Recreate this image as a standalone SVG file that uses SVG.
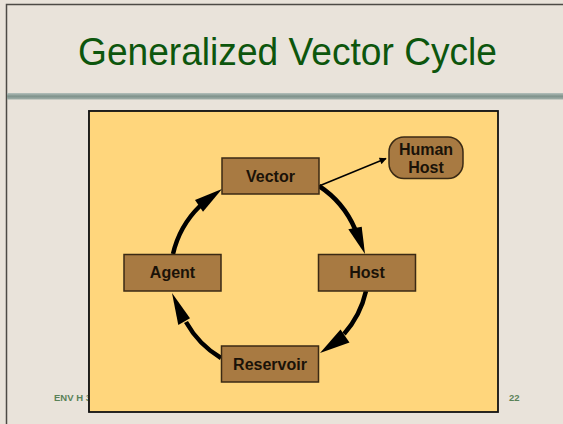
<svg xmlns="http://www.w3.org/2000/svg" width="563" height="424" viewBox="0 0 563 424">
  <defs>
    <linearGradient id="bar" x1="0" y1="0" x2="0" y2="1">
      <stop offset="0" stop-color="#b4c0bb"/>
      <stop offset="0.5" stop-color="#7f928b"/>
      <stop offset="1" stop-color="#a3b1ab"/>
    </linearGradient>
    <marker id="thin" viewBox="0 0 10 10" refX="9" refY="5" markerWidth="10" markerHeight="7" markerUnits="userSpaceOnUse" orient="auto">
      <path d="M0,0 L10,5 L0,10 z" fill="#000"/>
    </marker>
  </defs>
  <style>
    .node rect { fill: #a87a42; stroke: #3b2a14; stroke-width: 1.5; }
    .node text { font-family: "Liberation Sans", Arial, sans-serif; font-weight: bold; font-size: 16px; fill: #1a1208; text-anchor: middle; }
    .arc { fill: none; stroke: #000; stroke-width: 4.5; }
    .head { fill: #000; }
    .foot { font-family: "Liberation Sans", Arial, sans-serif; font-size: 9.5px; font-weight: bold; fill: #5a8258; }
  </style>

  <!-- slide background and frame -->
  <rect x="0" y="0" width="563" height="424" fill="#e9e3da"/>
  <path d="M6.5,424 V4.5 H563" fill="none" stroke="#4d4a45" stroke-width="1.5"/>

  <!-- title -->
  <text x="287.5" y="65" font-family="Liberation Sans, Arial, sans-serif" font-size="39" fill="#0d560d" text-anchor="middle" textLength="419" lengthAdjust="spacingAndGlyphs">Generalized Vector Cycle</text>

  <!-- divider bar -->
  <rect x="7" y="93" width="556" height="6.5" fill="url(#bar)"/>

  <!-- footer -->
  <text class="foot" x="54" y="401">ENV H 3</text>
  <text class="foot" x="509" y="401">22</text>

  <!-- panel -->
  <rect x="88" y="110" width="410" height="302" fill="#9a9a90"/>
  <rect x="89" y="111" width="409" height="301" fill="#ffd67c" stroke="#111" stroke-width="1.8"/>

  <!-- connectors -->
  <g id="connectors">
    <path class="arc" d="M173,254 A97,97 0 0 1 200,206"/>
    <polygon class="head" points="222,189 195,200 203,211.7"/>
    <path class="arc" d="M319,186 A97,97 0 0 1 355,229"/>
    <polygon class="head" points="365,254 348.3,229.3 361.7,226.7"/>
    <path class="arc" d="M366,291 A97,97 0 0 1 344,334"/>
    <polygon class="head" points="320,353 349.5,342.6 340.5,329.4"/>
    <path class="arc" d="M221,358 A97,97 0 0 1 186,322"/>
    <polygon class="head" points="172,293 178.3,325 190,318.3"/>
    <line x1="319" y1="186" x2="386" y2="158.5" stroke="#000" stroke-width="1.5" marker-end="url(#thin)"/>
  </g>

  <!-- nodes -->
  <g id="vector" class="node">
    <rect x="222" y="158" width="97" height="36"/>
    <text x="270.5" y="182">Vector</text>
  </g>
  <g id="agent" class="node">
    <rect x="124" y="254.5" width="97" height="36.5"/>
    <text x="172.5" y="278">Agent</text>
  </g>
  <g id="host" class="node">
    <rect x="318.5" y="254.5" width="97" height="36.5"/>
    <text x="367" y="278">Host</text>
  </g>
  <g id="reservoir" class="node">
    <rect x="221.5" y="346" width="97" height="36"/>
    <text x="270" y="370">Reservoir</text>
  </g>
  <g id="human-host" class="node">
    <rect x="389" y="137" width="74" height="41.5" rx="15" ry="15"/>
    <text x="426" y="155">Human</text>
    <text x="426" y="172.5">Host</text>
  </g>
</svg>
